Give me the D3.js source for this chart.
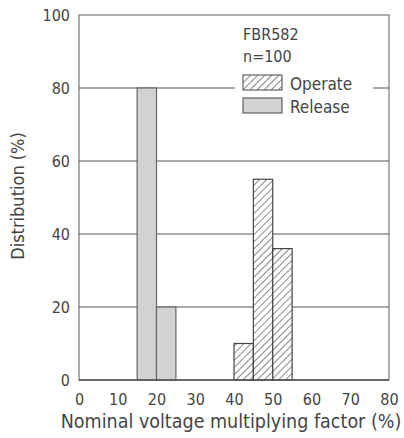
<!DOCTYPE html>
<html>
<head>
<meta charset="utf-8">
<script src="https://cdn.jsdelivr.net/npm/d3@7"></script>
<style>
  body { margin: 0; background: #fff; }
  text { font-family: "DejaVu Sans Condensed", "DejaVu Sans", sans-serif; fill: #444; }
</style>
</head>
<body>
<div id="chart"></div>
<script>
// bins are 5% wide, keyed by their lower edge
var releaseBins = [15, 20];
var releaseValues = [80, 20];
var operateBins = [40, 45, 50];
var operateValues = [10, 55, 36];
var xTicks = [0, 10, 20, 30, 40, 50, 60, 70, 80];
var yTicks = [0, 20, 40, 60, 80, 100];
var legendLines = ["FBR582", "n=100"];
var legendItems = ["Operate", "Release"];

var width = 404, height = 438;
var margin = {top: 15, right: 15, bottom: 58, left: 79};

var svg = d3.select("#chart").append("svg")
    .attr("width", width).attr("height", height);

var defs = svg.append("defs");
var hatch = defs.append("pattern")
    .attr("id", "hatch")
    .attr("patternUnits", "userSpaceOnUse")
    .attr("width", 5).attr("height", 5)
    .attr("patternTransform", "rotate(45)");
hatch.append("rect").attr("width", 5).attr("height", 5).attr("fill", "#fff");
hatch.append("line")
    .attr("x1", 0).attr("y1", 0).attr("x2", 0).attr("y2", 5)
    .attr("stroke", "#3a3a3a").attr("stroke-width", 1.2);

var x = d3.scaleLinear().domain([0, 80]).range([margin.left, width - margin.right]);
var y = d3.scaleLinear().domain([0, 100]).range([height - margin.bottom, margin.top]);

// frame
svg.append("rect")
    .attr("x", x(0)).attr("y", y(100))
    .attr("width", x(80) - x(0)).attr("height", y(0) - y(100))
    .attr("fill", "none").attr("stroke", "#777").attr("stroke-width", 1.2);

// gridlines
svg.append("g").selectAll("line")
    .data(yTicks.filter(function (d) { return d > 0 && d < 100; }))
    .enter().append("line")
    .attr("x1", x(0)).attr("x2", x(80))
    .attr("y1", function (d) { return y(d); })
    .attr("y2", function (d) { return y(d); })
    .attr("stroke", "#555").attr("stroke-width", 1.2);

// bars
function drawBars(bins, values, fill, stroke) {
  svg.append("g").selectAll("rect")
      .data(bins.map(function (b, i) { return {b: b, v: values[i]}; }))
      .enter().append("rect")
      .attr("x", function (d) { return x(d.b); })
      .attr("width", function (d) { return x(d.b + 5) - x(d.b); })
      .attr("y", function (d) { return y(d.v); })
      .attr("height", function (d) { return y(0) - y(d.v); })
      .attr("fill", fill).attr("stroke", stroke).attr("stroke-width", 1.2);
}
drawBars(releaseBins, releaseValues, "#d2d2d2", "#666");
drawBars(operateBins, operateValues, "url(#hatch)", "#444");

// baseline
svg.append("line")
    .attr("x1", x(0)).attr("x2", x(80)).attr("y1", y(0)).attr("y2", y(0))
    .attr("stroke", "#555").attr("stroke-width", 1.5);

// axes (labels only)
var xAxis = svg.append("g")
    .attr("transform", "translate(0," + (y(0) + 25) + ")")
    .call(d3.axisBottom(x).tickValues(xTicks).tickSize(0).tickPadding(0));
xAxis.select(".domain").remove();
xAxis.selectAll("text").attr("font-size", 16).attr("dy", 0);

var yAxis = svg.append("g")
    .attr("transform", "translate(" + (x(0) - 9) + ",0)")
    .call(d3.axisLeft(y).tickValues(yTicks).tickSize(0).tickPadding(0));
yAxis.select(".domain").remove();
yAxis.selectAll("text").attr("font-size", 16);
svg.selectAll(".tick text").style("fill", "#444").attr("font-family", "DejaVu Sans Condensed, DejaVu Sans, sans-serif");

svg.append("text")
    .attr("x", 231).attr("y", 428)
    .attr("text-anchor", "middle").attr("font-size", 19.5)
    .text("Nominal voltage multiplying factor (%)");

svg.append("text")
    .attr("transform", "translate(24,196) rotate(-90)")
    .attr("text-anchor", "middle").attr("font-size", 18)
    .text("Distribution (%)");

// legend
var lg = svg.append("g").attr("transform", "translate(235,0)");
lg.append("rect").attr("x", 0).attr("y", y(80) - 4).attr("width", 138).attr("height", 10).attr("fill", "#fff");
lg.selectAll("text.hd").data(legendLines).enter().append("text")
    .attr("class", "hd")
    .attr("x", 8).attr("y", function (d, i) { return 40 + i * 21.5; })
    .attr("font-size", 16).text(function (d) { return d; });
var swatchFill = ["url(#hatch)", "#d2d2d2"];
var items = lg.selectAll("g.item").data(legendItems).enter().append("g")
    .attr("class", "item")
    .attr("transform", function (d, i) { return "translate(8," + (75 + i * 23) + ")"; });
items.append("rect").attr("width", 39).attr("height", 15)
    .attr("fill", function (d, i) { return swatchFill[i]; })
    .attr("stroke", "#555").attr("stroke-width", 1.1);
items.append("text").attr("x", 47).attr("y", 15).attr("font-size", 17)
    .text(function (d) { return d; });
</script>
</body>
</html>
